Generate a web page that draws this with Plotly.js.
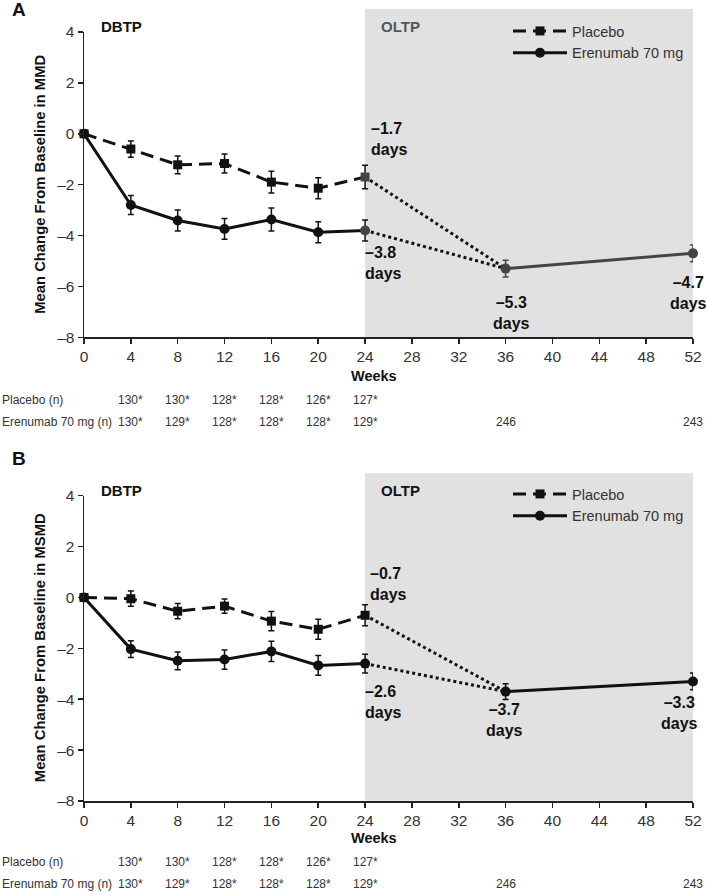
<!DOCTYPE html>
<html>
<head>
<meta charset="utf-8">
<script src="https://cdn.plot.ly/plotly-3.0.1.min.js"></script>
<style>html,body{margin:0;padding:0;background:#fff;}#chart{width:707px;height:892px;}</style>
</head>
<body>
<div id="chart"></div>
<script>
// ---- data ----
const weeksDB = [0, 4, 8, 12, 16, 20, 24];
const weeksOL = [36, 52];
const xTicks = [0, 4, 8, 12, 16, 20, 24, 28, 32, 36, 40, 44, 48, 52];
const yTicks = [-8, -6, -4, -2, 0, 2, 4];
const yTickText = ['\u20138', '\u20136', '\u20134', '\u20132', '0', '2', '4'];

// Panel A (MMD)
const placeboA = [0, -0.6, -1.22, -1.17, -1.9, -2.14, -1.7];
const placeboErrA = [0, 0.32, 0.35, 0.37, 0.43, 0.41, 0.46];
const erenA = [0, -2.8, -3.41, -3.74, -3.37, -3.87, -3.8];
const erenErrA = [0, 0.37, 0.41, 0.41, 0.45, 0.41, 0.41];
const oltpA = [-5.3, -4.7];
const oltpErrA = [0.33, 0.33];

// Panel B (MSMD)
const placeboB = [0, -0.05, -0.54, -0.34, -0.93, -1.25, -0.7];
const placeboErrB = [0, 0.3, 0.3, 0.28, 0.38, 0.39, 0.41];
const erenB = [0, -2.03, -2.49, -2.44, -2.12, -2.67, -2.6];
const erenErrB = [0, 0.33, 0.35, 0.38, 0.4, 0.39, 0.37];
const oltpB = [-3.7, -3.3];
const oltpErrB = [0.31, 0.33];

// n table
const nWeeksPlacebo = [4, 8, 12, 16, 20, 24];
const nPlacebo = ['130*', '130*', '128*', '128*', '126*', '127*'];
const nWeeksEren = [4, 8, 12, 16, 20, 24, 36, 52];
const nEren = ['130*', '129*', '128*', '128*', '128*', '129*', '246', '243'];

// ---- layout helpers ----
const W = 707, H = 892;
const M = {l: 84, r: 14, t: 32, b: 91};
const PW = W - M.l - M.r, PH = H - M.t - M.b;
const px = x => (x - M.l) / PW;            // page px -> paper x
const py = y => (H - M.b - y) / PH;        // page px -> paper y
const FONT = 'Liberation Sans, Arial, Helvetica, sans-serif';
const BLACK = '#111111';
const fmt = v => (v < 0 ? '\u2013' : '') + Math.abs(v).toFixed(1) + '<br>days';

function panelTraces(xa, ya, leg, plc, plcErr, ern, ernErr, ol, olErr, olColor) {
  const eb = (arr, c) => ({type: 'data', array: arr, visible: true, color: c, thickness: 1.5, width: 3});
  const dbMarkerColor = weeksDB.map(w => w >= 24 ? olColor : BLACK);
  return [
    {x: [weeksDB[weeksDB.length - 1], weeksOL[0]], y: [plc[plc.length - 1], ol[0]], xaxis: xa, yaxis: ya,
     mode: 'lines', line: {color: BLACK, width: 3, dash: 'dot'}, showlegend: false, hoverinfo: 'skip', cliponaxis: false},
    {x: [weeksDB[weeksDB.length - 1], weeksOL[0]], y: [ern[ern.length - 1], ol[0]], xaxis: xa, yaxis: ya,
     mode: 'lines', line: {color: BLACK, width: 3, dash: 'dot'}, showlegend: false, hoverinfo: 'skip', cliponaxis: false},
    {x: weeksOL, y: ol, xaxis: xa, yaxis: ya, mode: 'lines+markers', showlegend: false,
     line: {color: olColor, width: 3}, marker: {symbol: 'circle', size: 10, color: olColor},
     error_y: eb(olErr, olColor), cliponaxis: false},
    {x: weeksDB, y: ern, xaxis: xa, yaxis: ya, mode: 'lines+markers', name: 'Erenumab 70 mg', legend: leg,
     line: {color: BLACK, width: 3}, marker: {symbol: 'circle', size: 10, color: dbMarkerColor},
     error_y: eb(ernErr, BLACK), cliponaxis: false, legendrank: 2},
    {x: weeksDB, y: plc, xaxis: xa, yaxis: ya, mode: 'lines+markers', name: 'Placebo', legend: leg,
     line: {color: BLACK, width: 3, dash: '13px,7px'}, marker: {symbol: 'square', size: 9, color: dbMarkerColor},
     error_y: eb(plcErr, BLACK), cliponaxis: false, legendrank: 1}
  ];
}

const data = [].concat(
  panelTraces('x', 'y', 'legend', placeboA, placeboErrA, erenA, erenErrA, oltpA, oltpErrA, '#444444'),
  panelTraces('x2', 'y2', 'legend2', placeboB, placeboErrB, erenB, erenErrB, oltpB, oltpErrB, BLACK)
);

const TICKFONT = {family: FONT, size: 15.5, color: '#333'};
function xAxis(anchor) {
  return {anchor: anchor, range: [0, 52], tickvals: xTicks, ticktext: xTicks.map(String),
    showline: true, linecolor: '#222', linewidth: 1.5, ticks: 'outside', ticklen: 5, tickwidth: 1.5,
    tickcolor: '#222', tickfont: TICKFONT, showgrid: false,
    zeroline: false, automargin: false, fixedrange: true};
}
function yAxis(anchor, domain) {
  return {anchor: anchor, domain: domain, range: [-8, 4], tickvals: yTicks, ticktext: yTickText,
    showline: true, linecolor: '#222', linewidth: 1.5, ticks: 'outside', ticklen: 5, tickwidth: 1.5,
    tickcolor: '#222', tickfont: TICKFONT, showgrid: false,
    zeroline: false, automargin: false, fixedrange: true};
}

const panels = [
  {xa: 'x', ya: 'y', top: 32.3, bottom: 337.3, letter: 'A', letterY: 9.5, tagY: 26.7,
   ytitle: 'Mean Change From Baseline in MMD', weeksY: 376, rowY: [400, 421.7], oltpColor: '#555',
   plc: placeboA, ern: erenA, ol: oltpA, shadeTop: 9,
   lab: [[4, 17, 'left', 'bottom'], [-2, -12, 'left', 'top'], [6, -23, 'center', 'top'], [-5, -19, 'center', 'top']]},
  {xa: 'x2', ya: 'y2', top: 495.7, bottom: 800.7, letter: 'B', letterY: 458, tagY: 490,
   ytitle: 'Mean Change From Baseline in MSMD', weeksY: 838, rowY: [861.7, 884], oltpColor: BLACK,
   plc: placeboB, ern: erenB, ol: oltpB, shadeTop: 473.3,
   lab: [[3, 10, 'left', 'bottom'], [-2, -17, 'left', 'top'], [-1, -7, 'center', 'top'], [-14, -11, 'center', 'top']]}
];

const annotations = [];
const shapes = [];
const NFONT = {family: FONT, size: 12, color: '#333'};
panels.forEach(p => {
  shapes.push({type: 'rect', xref: p.xa, yref: 'paper', x0: 24, x1: 52, y0: py(p.bottom), y1: py(p.shadeTop),
    fillcolor: '#e1e1e1', line: {width: 0}, layer: 'below'});
  const txt = (x, y, text, opts) => Object.assign({xref: 'paper', yref: 'paper', x: x, y: y, text: text,
    showarrow: false, xanchor: 'center', yanchor: 'middle',
    font: {family: FONT, size: 14.5, color: BLACK}}, opts || {});
  annotations.push(txt(px(19), py(p.letterY), p.letter, {font: {family: FONT, size: 19, color: BLACK, weight: 700}}));
  annotations.push(txt(px(121), py(p.tagY), 'DBTP', {font: {family: FONT, size: 15, color: BLACK, weight: 700}}));
  annotations.push(txt(px(400), py(p.tagY), 'OLTP', {font: {family: FONT, size: 15, color: p.oltpColor, weight: 700}}));
  annotations.push(txt(px(40), py((p.top + p.bottom) / 2), p.ytitle,
    {textangle: -90, font: {family: FONT, size: 14.8, color: BLACK, weight: 700}}));
  annotations.push(txt(px(374), py(p.weeksY), 'Weeks', {font: {family: FONT, size: 14.5, color: BLACK, weight: 700}}));
  annotations.push(txt(px(0), py(p.rowY[0]), 'Placebo (n)', {xanchor: 'left', font: NFONT}));
  annotations.push(txt(px(0), py(p.rowY[1]), 'Erenumab 70 mg (n)', {xanchor: 'left', font: NFONT}));
  nWeeksPlacebo.forEach((w, i) => annotations.push({xref: p.xa, yref: 'paper', x: w, y: py(p.rowY[0]), text: nPlacebo[i],
    showarrow: false, xanchor: 'center', yanchor: 'middle', font: NFONT}));
  nWeeksEren.forEach((w, i) => annotations.push({xref: p.xa, yref: 'paper', x: w, y: py(p.rowY[1]), text: nEren[i],
    showarrow: false, xanchor: 'center', yanchor: 'middle', font: NFONT}));
  // value labels
  const pts = [[24, p.plc[p.plc.length - 1]], [24, p.ern[p.ern.length - 1]], [weeksOL[0], p.ol[0]], [weeksOL[1], p.ol[1]]];
  pts.forEach((pt, i) => {
    const L = p.lab[i];
    annotations.push({xref: p.xa, yref: p.ya, x: pt[0], y: pt[1], text: fmt(pt[1]), showarrow: false,
      xanchor: L[2], yanchor: L[3], xshift: L[0], yshift: L[1], align: L[2] === 'left' ? 'left' : 'center',
      font: {family: FONT, size: 16, color: BLACK, weight: 700}});
  });
});

const legendBase = {xref: 'paper', yref: 'paper', xanchor: 'left', yanchor: 'top', bgcolor: 'rgba(0,0,0,0)',
  font: {family: FONT, size: 14.5, color: '#333'}, itemwidth: 54, tracegroupgap: 0, traceorder: 'normal'};

const layout = {
  width: W, height: H, margin: M, paper_bgcolor: '#fff', plot_bgcolor: 'rgba(0,0,0,0)',
  font: {family: FONT, color: BLACK},
  xaxis: xAxis('y'), yaxis: yAxis('x', [py(337.3), 1]),
  xaxis2: xAxis('y2'), yaxis2: yAxis('x2', [0, py(495.7)]),
  showlegend: true,
  legend: Object.assign({}, legendBase, {x: px(508), y: py(15)}),
  legend2: Object.assign({}, legendBase, {x: px(508), y: py(478)}),
  shapes: shapes, annotations: annotations
};

Plotly.newPlot('chart', data, layout, {staticPlot: true, displayModeBar: false});
</script>
</body>
</html>
